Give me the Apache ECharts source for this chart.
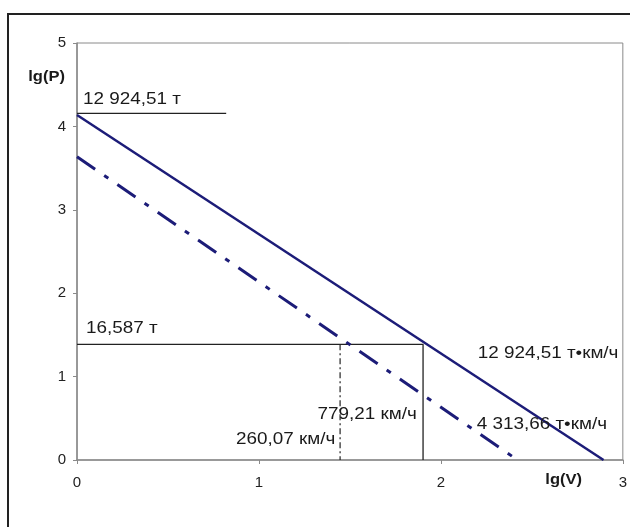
<!DOCTYPE html>
<html>
<head>
<meta charset="utf-8">
<script src="https://cdn.jsdelivr.net/npm/echarts@6/dist/echarts.min.js"></script>
<style>
html,body{margin:0;padding:0;background:#fff;}
#c{width:630px;height:527px;}
</style>
</head>
<body>
<div id="c"></div>
<script>
// Axis ticks
const xTicks = [0, 1, 2, 3];
const yTicks = [0, 1, 2, 3, 4, 5];
// Main lines (lg(V), lg(P))
const solidLine = [[0, 4.137], [2.894, 0]];
const dashDotLine = [[0, 3.637], [2.421, 0]];
// Reference lines
const topRef = [[0, 4.157], [0.82, 4.157]];
const midRef = [[0, 1.387], [1.902, 1.387], [1.902, 0]];
const dashRef = [[1.446, 1.387], [1.446, 0]];
// Annotation labels: [text, x, y, bold]
const labels = [
  ['12 924,51 т', 0.033, 4.317, false],
  ['16,587 т', 0.049, 1.571, false],
  ['260,07 км/ч', 0.874, 0.24, false],
  ['779,21 км/ч', 1.322, 0.54, false],
  ['12 924,51 т•км/ч', 2.202, 1.271, false],
  ['4 313,66 т•км/ч', 2.197, 0.42, false],
  ['lg(P)', -0.268, 4.592, true],
  ['lg(V)', 2.574, -0.24, true]
];

const chart = echarts.init(document.getElementById('c'), null, {renderer: 'canvas'});
const axisGrey = '#8a8a8a';
const navy = '#1c1c78';
const font = "'Liberation Sans', Arial, sans-serif";

chart.setOption({
  backgroundColor: '#fff',
  animation: false,
  grid: {left: 77, top: 43, right: 4, bottom: 67, show: true, borderColor: axisGrey, borderWidth: 1, backgroundColor: '#fff'},
  xAxis: {
    type: 'value', min: xTicks[0], max: xTicks[xTicks.length - 1], interval: 1,
    axisLine: {show: true, lineStyle: {color: axisGrey, width: 1.5}},
    axisTick: {show: true, length: 4, lineStyle: {color: axisGrey}},
    splitLine: {show: false},
    axisLabel: {color: '#222', fontSize: 15, fontFamily: font, margin: 15, showMaxLabel: true}
  },
  yAxis: {
    type: 'value', min: yTicks[0], max: yTicks[yTicks.length - 1], interval: 1,
    axisLine: {show: true, lineStyle: {color: axisGrey, width: 1.5}},
    axisTick: {show: true, length: 4, lineStyle: {color: axisGrey}},
    splitLine: {show: false},
    axisLabel: {color: '#222', fontSize: 15, fontFamily: font, margin: 11}
  },
  series: [
    {type: 'line', data: solidLine, symbol: 'none', lineStyle: {color: navy, width: 2.5}, z: 5},
    {type: 'line', data: dashDotLine, symbol: 'none', lineStyle: {color: navy, width: 3, type: [22, 11, 5, 11]}, z: 5},
    {type: 'line', data: topRef, symbol: 'none', lineStyle: {color: '#222', width: 1.3}},
    {type: 'line', data: midRef, symbol: 'none', lineStyle: {color: '#222', width: 1.3}},
    {type: 'line', data: dashRef, symbol: 'none', lineStyle: {color: '#222', width: 1.2, type: [6, 3, 2, 3]}}
  ]
});

const g = [{
  type: 'rect', shape: {x: 8, y: 14, width: 640, height: 540},
  style: {fill: 'none', stroke: '#222', lineWidth: 2}, silent: true
}];
labels.forEach(function (l) {
  const p = chart.convertToPixel({gridIndex: 0}, [l[1], l[2]]);
  g.push({
    type: 'text', x: p[0], y: p[1], scaleX: 1.18, z: 100,
    style: {
      text: l[0], fill: '#1a1a1a', align: 'left', verticalAlign: 'middle',
      font: (l[3] ? 'bold 14px ' : '16px ') + font
    }
  });
});
chart.setOption({graphic: g});
</script>
</body>
</html>
